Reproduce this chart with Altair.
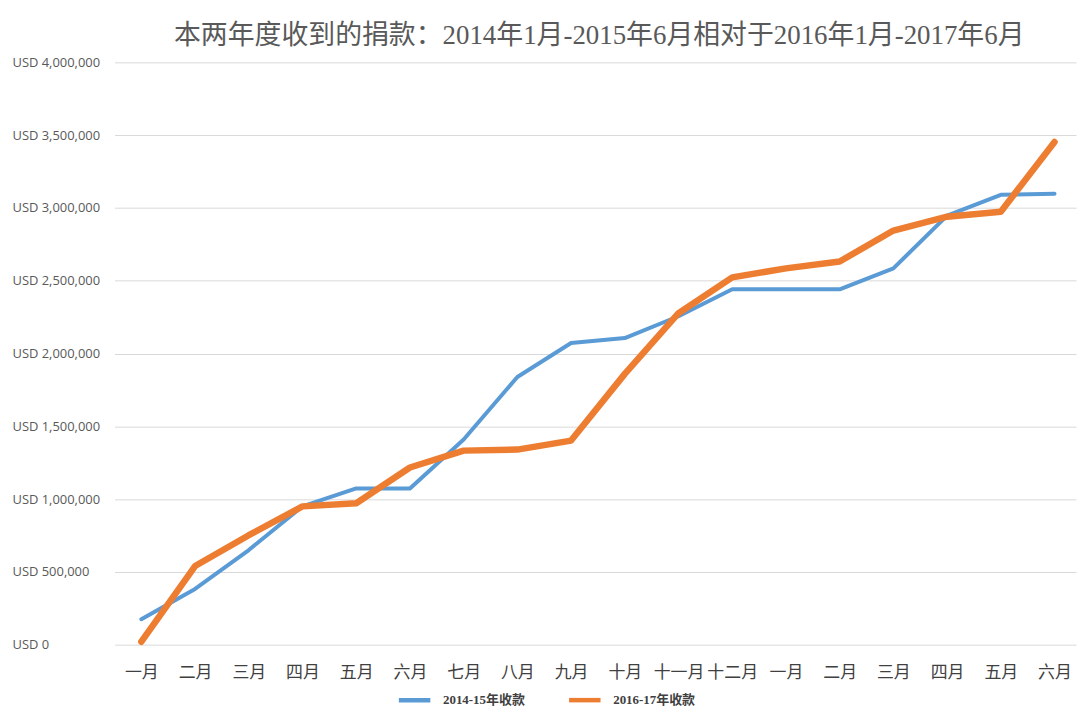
import altair as alt
import pandas as pd

month_labels = ["一月", "二月", "三月", "四月", "五月", "六月", "七月", "八月", "九月",
                "十月", "十一月", "十二月", "一月", "二月", "三月", "四月", "五月", "六月"]

series_a = "2014-15年收款"
series_b = "2016-17年收款"

values_a = [175000, 383000, 650000, 950000, 1073000, 1073000, 1409000, 1839000, 2072000,
            2106000, 2256000, 2441000, 2441000, 2441000, 2585000, 2947000, 3090000, 3097000]
values_b = [20000, 540000, 752000, 950000, 971000, 1217000, 1333000, 1340000, 1402000,
            1860000, 2277000, 2523000, 2585000, 2632000, 2845000, 2940000, 2974000, 3453000]

y_ticks = [0, 500000, 1000000, 1500000, 2000000, 2500000, 3000000, 3500000, 4000000]

rows = []
for i, v in enumerate(values_a):
    rows.append({"idx": i, "value": v, "series": series_a})
for i, v in enumerate(values_b):
    rows.append({"idx": i, "value": v, "series": series_b})
df = pd.DataFrame(rows)

label_array = "[" + ",".join("'" + m + "'" for m in month_labels) + "]"

x_enc = alt.X(
    "idx:Q",
    scale=alt.Scale(domain=[-0.5, 17.4], nice=False, zero=False),
    axis=alt.Axis(
        values=list(range(18)),
        labelExpr=label_array + "[datum.value]",
        grid=False, ticks=False, domain=False,
        labelPadding=20, labelFontSize=17, labelColor="#404040",
        labelFont="Noto Sans CJK SC", title=None, labelOverlap=False,
    ),
)
y_enc = alt.Y(
    "value:Q",
    scale=alt.Scale(domain=[0, 4000000], nice=False),
    axis=alt.Axis(
        values=y_ticks,
        labelExpr="'USD ' + format(datum.value, ',')",
        ticks=False, domain=False, grid=True, gridColor="#d9d9d9", gridWidth=1,
        labelAlign="left", labelPadding=103, labelFontSize=13, labelColor="#595959",
        labelFont="Open Sans", title=None,
    ),
)
color_enc = alt.Color(
    "series:N",
    scale=alt.Scale(domain=[series_a, series_b], range=["#5B9BD5", "#ED7D31"]),
    legend=alt.Legend(
        title=None, orient="none", legendX=283, legendY=622, direction="horizontal",
        symbolType="stroke", symbolSize=1000, symbolStrokeWidth=4.5,
        labelFont="Liberation Serif, Noto Sans CJK SC", labelFontWeight="bold",
        labelFontSize=13, labelColor="#404040", labelOffset=10, columnPadding=34,
    ),
)

base = alt.Chart(df)
line_a = base.transform_filter(alt.datum.series == series_a).mark_line(
    strokeWidth=4, strokeCap="round", strokeJoin="round"
).encode(x=x_enc, y=y_enc, color=color_enc)
line_b = base.transform_filter(alt.datum.series == series_b).mark_line(
    strokeWidth=6.5, strokeCap="round", strokeJoin="round"
).encode(x=x_enc, y=y_enc, color=color_enc)

chart = alt.layer(line_a, line_b).properties(
    width=966,
    height=585,
    autosize=alt.AutoSizeParams(type="none"),
    padding={"left": 107, "top": 53, "right": 2, "bottom": 60},
    view=alt.ViewBackground(stroke="transparent", strokeWidth=0, strokeOpacity=0),
    title=alt.Title(
        "本两年度收到的捐款：2014年1月-2015年6月相对于2016年1月-2017年6月",
        font="Liberation Serif, Noto Sans CJK SC", fontSize=27, fontWeight="normal",
        color="#595959", anchor="middle", offset=6, dx=4,
    ),
).configure_view(stroke="transparent", strokeWidth=0, strokeOpacity=0).configure_axis(
    domain=False, domainOpacity=0
).configure(background="white")

chart.save("out.html", embed_options={"renderer": "svg", "actions": False})
